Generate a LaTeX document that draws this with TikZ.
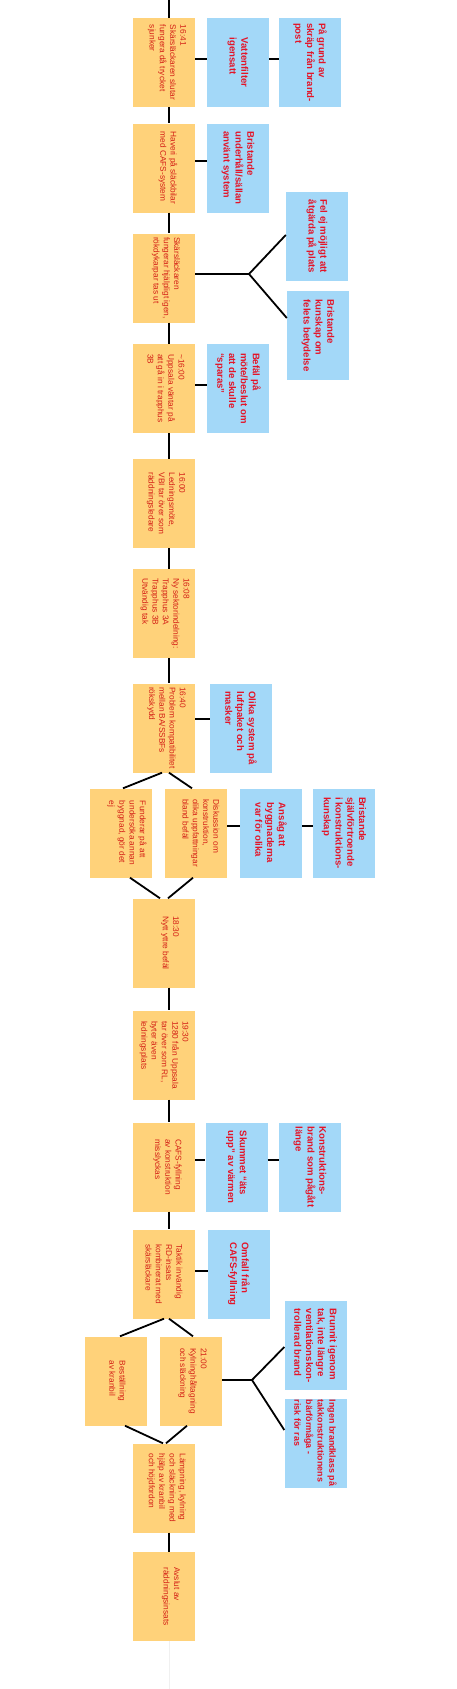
\documentclass[tikz,border=0pt]{standalone}
\usepackage{fontspec}
\setmainfont{Liberation Sans}
\definecolor{ofill}{RGB}{255,210,122}
\definecolor{bfill}{RGB}{163,216,248}
\definecolor{otext}{RGB}{212,32,22}
\definecolor{btext}{RGB}{228,20,40}
\tikzset{
  obox/.style={fill=ofill, draw=none, minimum width=62pt, minimum height=89pt, inner sep=0pt},
  bbox/.style={fill=bfill, draw=none, minimum width=62pt, minimum height=89pt, inner sep=0pt},
  otxt/.style={font=\fontsize{8.3}{10.3}\selectfont, text=otext, align=left, rotate=-90, inner sep=0pt},
  btxt/.style={font=\bfseries\fontsize{9.6}{11.8}\selectfont, text=btext, align=left, rotate=-90, inner sep=0pt},
  conn/.style={draw=black, line width=1.8pt},
  faint/.style={draw=black!6, line width=1pt}
}
\begin{document}
\begin{tikzpicture}[x=1pt,y=-1pt]
\fill[white] (0,0) rectangle (456,1689);
\useasboundingbox (0,0) rectangle (456,1689);

% boxes
\node[obox] (o1) at (164,62.5) {};
\node[bbox] (b1a) at (238,62.5) {};
\node[bbox] (b1b) at (310,62.5) {};
\node[obox] (o2) at (164,168) {};
\node[bbox] (b2) at (238,168) {};
\node[obox] (o3) at (164,278) {};
\node[bbox] (b3a) at (317,236.5) {};
\node[bbox] (b3b) at (318,335.5) {};
\node[obox] (o4) at (164,388.5) {};
\node[bbox] (b4) at (238,388.5) {};
\node[obox] (o5) at (164,503.5) {};
\node[obox] (o6) at (164,613.5) {};
\node[obox] (o7) at (164,728) {};
\node[bbox] (b7) at (241,728) {};
\node[obox] (o8a) at (121,833) {};
\node[obox] (o8b) at (196,833) {};
\node[bbox] (b8a) at (271,833) {};
\node[bbox] (b8b) at (344,833) {};
\node[obox] (o9) at (164,943) {};
\node[obox] (o10) at (164,1055) {};
\node[obox] (o11) at (164,1167) {};
\node[bbox] (b11a) at (236.5,1167) {};
\node[bbox] (b11b) at (310,1167) {};
\node[obox] (o12) at (164,1274) {};
\node[bbox] (b12) at (239,1274) {};
\node[obox] (o13a) at (116,1381) {};
\node[obox] (o13b) at (191,1381) {};
\node[bbox] (b13a) at (315.5,1345.5) {};
\node[bbox] (b13b) at (315.5,1443) {};
\node[obox] (o14) at (164,1488) {};
\node[obox] (o15) at (164,1596.5) {};

% orange texts
\node[otxt] (t1) at ([xshift=3pt]o1.center) {16:41\\Skärsläckaren slutar\\fungera då trycket\\sjunker};
\node[otxt] (t2) at ([xshift=4pt]o2.center) {Haveri på släckbilar\\med CAFS-system};
\node[otxt] (t3) at ([xshift=2pt]o3.center) {Skärsläckaren\\fungerar hjälpligt igen,\\rökdykarpar tas ut};
\node[otxt] (t4) at ([xshift=2pt]o4.center) {\textasciitilde16:00\\Uppsala väntar på\\att gå in i trapphus\\3B};
\node[otxt] (t5) at ([xshift=2pt]o5.center) {16:00\\Ledningsmöte,\\VBI tar över som\\räddningsledare};
\node[otxt] (t6) at ([xshift=1pt]o6.center) {16:08\\Ny sektorindelning:\\Trapphus 3A\\Trapphus 3B\\Utvändig tak};
\node[otxt] (t7) at ([xshift=2.5pt]o7.center) {16:40\\Problem kompatibilitet\\mellan BA/SSBFs\\rökskydd};
\node[otxt] (t8a) at ([xshift=6pt]o8a.center) {Funderar på att\\undersöka annan\\byggnad, gör det\\ej};
\node[otxt] (t8b) at ([xshift=5pt]o8b.center) {Diskussion om\\konstruktion,\\olika uppfattningar\\bland befäl};
\node[otxt] (t9) at ([xshift=6pt]o9.center) {18:30\\Nytt yttre befäl};
\node[otxt] (t10) at ([xshift=0pt]o10.center) {19:30\\1280 från Uppsala\\tar över som RL,\\byter även\\ledningsplats};
\node[otxt] (t11) at ([xshift=3.5pt]o11.center) {CAFS-fyllning\\av konstruktion\\misslyckas};
\node[otxt] (t12) at ([xshift=0pt]o12.center) {Taktik invändig\\RD-insats\\kombinerat med\\skärsläckare};
\node[otxt] (t13a) at ([xshift=1.5pt]o13a.center) {Beställning\\av kranbil};
\node[otxt] (t13b) at ([xshift=1.5pt]o13b.center) {21:00\\Kylninghåltagning\\och släckning};
\node[otxt] (t14) at ([xshift=2.5pt]o14.center) {Lämpning, kylning\\och släckning med\\hjälp av kranbil\\och höjdfordon};
\node[otxt] (t15) at ([xshift=7pt]o15.center) {Avslut av\\räddningsinsats};

% blue texts
\node[btxt] (u1a) at (b1a.center) {Vattenfilter\\igensatt};
\node[btxt] (u1b) at (b1b.center) {På grund av\\skräp från brand-\\post};
\node[btxt] (u2) at (b2.center) {Bristande\\underhåll/sällan\\använt system};
\node[btxt] (u3a) at (b3a.center) {Fel ej möjligt att\\åtgärda på plats};
\node[btxt] (u3b) at (b3b.center) {Bristande\\kunskap om\\felets betydelse};
\node[btxt] (u4) at (b4.center) {Befäl på\\möte/beslut om\\att de skulle\\ “sparas”};
\node[btxt] (u7) at (b7.center) {Olika system på\\luftpaket och\\masker};
\node[btxt] (u8a) at (b8a.center) {Ansåg att\\byggnaderna\\var för olika};
\node[btxt] (u8b) at (b8b.center) {Bristande\\självförtroende\\i konstruktions-\\kunskap};
\node[btxt] (u11a) at (b11a.center) {Skummet “äts\\upp” av värmen};
\node[btxt] (u11b) at (b11b.center) {Konstruktions-\\brand som pågått\\länge};
\node[btxt] (u12) at (b12.center) {Omfall från\\CAFS-fyllning};
\node[btxt] (u13a) at (b13a.center) {Brunnit igenom\\tak, inte längre\\ventilationskon-\\trollerad brand};
\node[btxt, font=\bfseries\fontsize{8.9}{11.6}\selectfont] (u13b) at (b13b.center) {Ingen brandklass på\\takkonstruktionens\\bärförmåga -\\risk för ras};

% coordinates for free ends and forks
\coordinate (top) at (169,0);
\coordinate (bot) at (169,1689);
\coordinate (f3) at (249,274);
\coordinate (f13) at (252,1380);

% main vertical connectors
\draw[conn] (top) -- ([xshift=5pt]o1.north);
\draw[conn] ([xshift=5pt]o1.south) -- ([xshift=5pt]o2.north);
\draw[conn] ([xshift=5pt]o2.south) -- ([xshift=5pt]o3.north);
\draw[conn] ([xshift=5pt]o3.south) -- ([xshift=5pt]o4.north);
\draw[conn] ([xshift=5pt]o4.south) -- ([xshift=5pt]o5.north);
\draw[conn] ([xshift=5pt]o5.south) -- ([xshift=5pt]o6.north);
\draw[conn] ([xshift=5pt]o6.south) -- ([xshift=5pt]o7.north);
\draw[conn] ([xshift=-2pt]o7.south) -- ([xshift=2pt]o8a.north);
\draw[conn] ([xshift=5pt]o7.south) -- ([xshift=-4pt]o8b.north);
\draw[conn] ([xshift=9pt]o8a.south) -- ([xshift=-4pt]o9.north);
\draw[conn] ([xshift=-3pt]o8b.south) -- ([xshift=4pt]o9.north);
\draw[conn] ([xshift=5pt]o9.south) -- ([xshift=5pt]o10.north);
\draw[conn] ([xshift=5pt]o10.south) -- ([xshift=5pt]o11.north);
\draw[conn] ([xshift=5pt]o11.south) -- ([xshift=5pt]o12.north);
\draw[conn] (o12.south) -- ([xshift=4pt]o13a.north);
\draw[conn] ([xshift=5pt]o12.south) -- ([xshift=2pt]o13b.north);
\draw[conn] ([xshift=9pt]o13a.south) -- ([xshift=-1pt]o14.north);
\draw[conn] ([xshift=-4pt]o13b.south) -- ([xshift=2pt]o14.north);
\draw[conn] ([xshift=5pt]o14.south) -- ([xshift=5pt]o15.north);
\draw[faint] ([xshift=5pt]o15.south) -- (bot);

% side connectors
\draw[conn] ([yshift=3.5pt]o1.east) -- ([yshift=3.5pt]b1a.west);
\draw[conn] ([yshift=3.5pt]b1a.east) -- ([yshift=3.5pt]b1b.west);
\draw[conn] ([yshift=7pt]o2.east) -- ([yshift=7pt]b2.west);
\draw[conn] ([yshift=4pt]o3.east) -- (f3);
\draw[conn] (f3) -- ([yshift=1.5pt]b3a.west);
\draw[conn] (f3) -- ([yshift=17.5pt]b3b.west);
\draw[conn] ([yshift=3.5pt]o4.east) -- ([yshift=3.5pt]b4.west);
\draw[conn] ([yshift=9pt]o7.east) -- ([yshift=9pt]b7.west);
\draw[conn] ([yshift=7pt]o8b.east) -- ([yshift=7pt]b8a.west);
\draw[conn] ([yshift=7pt]b8a.east) -- ([yshift=7pt]b8b.west);
\draw[conn] ([yshift=7pt]o11.east) -- ([yshift=7pt]b11a.west);
\draw[conn] ([yshift=7pt]b11a.east) -- ([yshift=7pt]b11b.west);
\draw[conn] ([yshift=3pt]o12.east) -- ([yshift=3pt]b12.west);
\draw[conn] ([yshift=1pt]o13b.east) -- (f13);
\draw[conn] (f13) -- ([yshift=-1.5pt]b13a.west);
\draw[conn] (f13) -- ([yshift=13pt]b13b.west);
\end{tikzpicture}
\end{document}
